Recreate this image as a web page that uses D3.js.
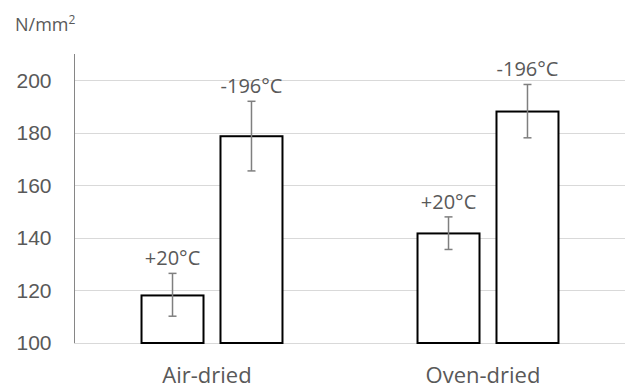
<!DOCTYPE html>
<html>
<head>
<title>Strength</title>
<style>
body { margin: 0; background: #fff; }
svg { display: block; font-family: "Open Sans", "Noto Sans", sans-serif; }
</style>
<script src="https://d3js.org/d3.v7.min.js"></script>
</head>
<body>
<svg id="chart" width="625" height="389"></svg>
<script>
// values
const categories = ["Air-dried", "Oven-dried"];
const series = ["+20°C", "-196°C"];
const mean20 = [118.1, 141.7];
const mean196 = [178.7, 188.1];
const low20 = [110.2, 135.6];
const high20 = [126.5, 148.0];
const low196 = [165.5, 178.1];
const high196 = [192.0, 198.4];
const yTicks = [100, 120, 140, 160, 180, 200];

const svg = d3.select("#chart");
const textColor = "#595959";

const x = d3.scaleBand().domain(categories).range([74, 626]).padding(0);
const xs = d3.scaleBand().domain(series).range([0, x.bandwidth()])
    .paddingInner(0.215).paddingOuter(0.855);
const y = d3.scaleLinear().domain([100, 210]).range([343, 54]);

// gridlines
svg.append("g").selectAll("line")
    .data(yTicks)
    .enter().append("line")
    .attr("x1", 74).attr("x2", 625)
    .attr("y1", d => Math.round(y(d)) + 0.5)
    .attr("y2", d => Math.round(y(d)) + 0.5)
    .style("stroke", "#d9d9d9")
    .style("stroke-width", 1);

// y axis
const yAxis = svg.append("g")
    .attr("transform", "translate(74.5,0)")
    .call(d3.axisLeft(y).tickValues(yTicks).tickSize(0).tickPadding(23));
yAxis.select(".domain").attr("stroke", "#868686").attr("d", `M0,${y(210)}V${y(100)}`);
yAxis.selectAll("text")
    .style("font-size", "21px")
    .style("fill", textColor)
    .attr("font-family", null);

// unit label
svg.append("text")
    .attr("x", 15).attr("y", 31)
    .style("font-size", "18px")
    .style("fill", textColor)
    .text("N/mm")
    .append("tspan")
    .attr("dy", -7)
    .style("font-size", "12px")
    .text("2");

// bars
const rows = [];
categories.forEach((c, i) => {
    rows.push({ cat: c, ser: series[0], v: mean20[i], lo: low20[i], hi: high20[i] });
    rows.push({ cat: c, ser: series[1], v: mean196[i], lo: low196[i], hi: high196[i] });
});

const groups = svg.selectAll(".bar")
    .data(rows)
    .enter().append("g")
    .attr("class", "bar")
    .attr("transform", d => `translate(${x(d.cat) + xs(d.ser)},0)`);

groups.append("rect")
    .attr("x", 0)
    .attr("y", d => y(d.v))
    .attr("width", xs.bandwidth())
    .attr("height", d => y(100) - y(d.v))
    .style("fill", "#fff")
    .style("stroke", "#000")
    .style("stroke-width", 2);

const cx = xs.bandwidth() / 2;
groups.append("line")
    .attr("x1", cx).attr("x2", cx)
    .attr("y1", d => y(d.lo)).attr("y2", d => y(d.hi))
    .style("stroke", "#7f7f7f").style("stroke-width", 1.5);
groups.append("line")
    .attr("x1", cx - 4).attr("x2", cx + 4)
    .attr("y1", d => y(d.lo)).attr("y2", d => y(d.lo))
    .style("stroke", "#7f7f7f").style("stroke-width", 1.5);
groups.append("line")
    .attr("x1", cx - 4).attr("x2", cx + 4)
    .attr("y1", d => y(d.hi)).attr("y2", d => y(d.hi))
    .style("stroke", "#7f7f7f").style("stroke-width", 1.5);

groups.append("text")
    .attr("x", cx)
    .attr("y", d => y(d.hi) - 8)
    .attr("text-anchor", "middle")
    .style("font-size", "20px")
    .style("fill", textColor)
    .text(d => d.ser);

// category labels
svg.append("g").selectAll("text")
    .data(categories)
    .enter().append("text")
    .attr("x", d => x(d) + x.bandwidth() / 2 - 5)
    .attr("y", 383)
    .attr("text-anchor", "middle")
    .style("font-size", "22px")
    .style("fill", textColor)
    .text(d => d);
</script>
</body>
</html>
